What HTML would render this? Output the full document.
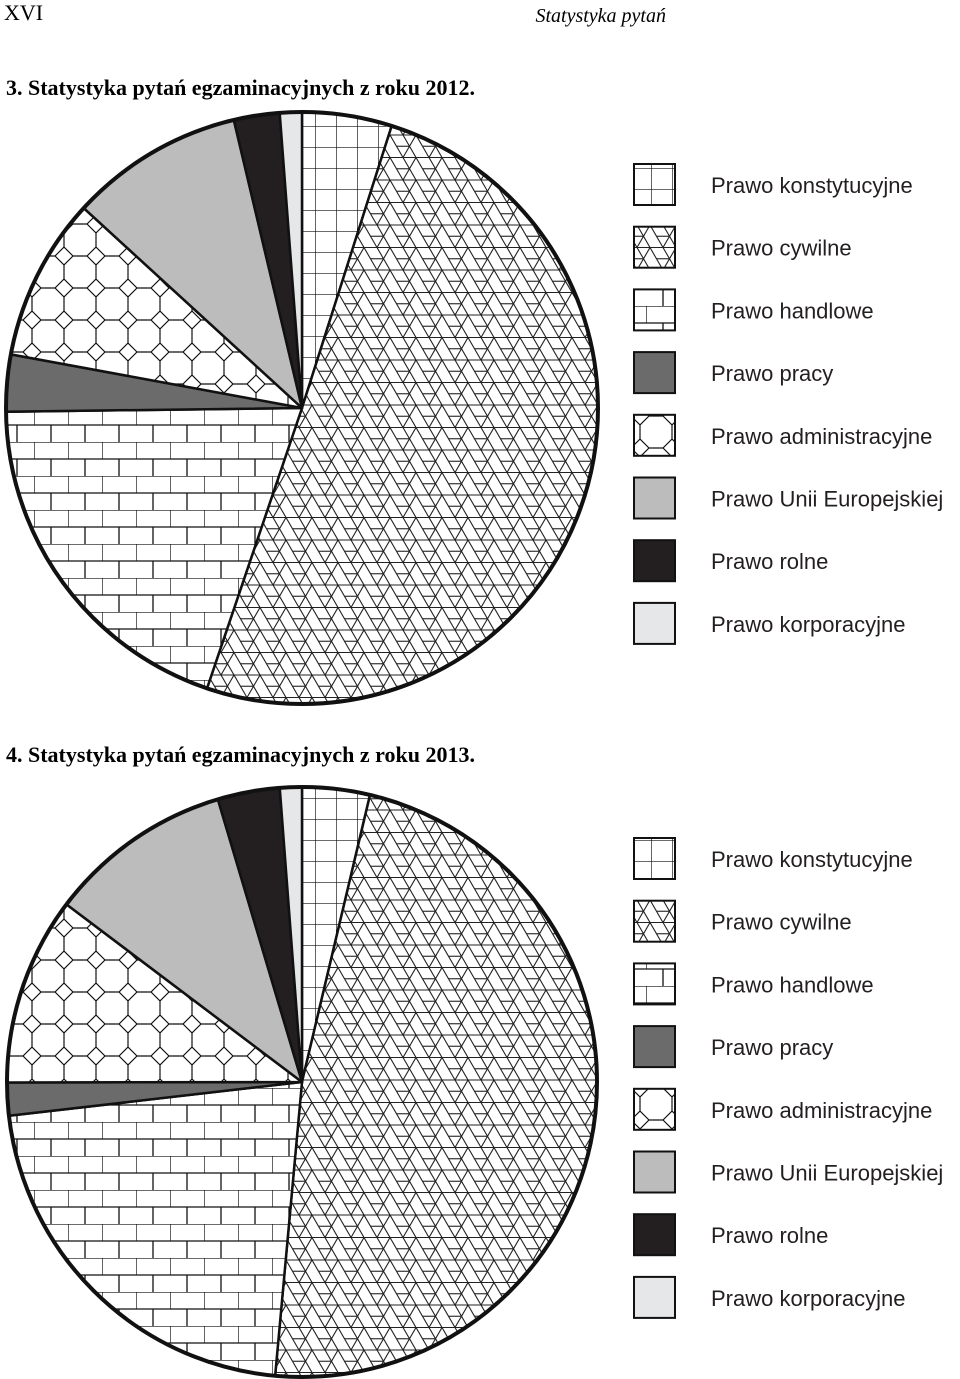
<!DOCTYPE html>
<html><head><meta charset="utf-8"><style>
body{margin:0;background:#fff;}
svg{display:block;}
</style></head><body>
<svg id="chart" width="960" height="1379" viewBox="0 0 960 1379" xmlns="http://www.w3.org/2000/svg">
<defs>
<pattern id="p-grid" patternUnits="userSpaceOnUse" width="21" height="21"><rect width="21" height="21" fill="#fff"/><path d="M0,0H21M0,0V21" stroke="#111" stroke-width="1.3" fill="none"/></pattern>
<pattern id="p-tri" patternUnits="userSpaceOnUse" width="26" height="22.5"><rect width="26" height="22.5" fill="#fff"/><path d="M0,0H26M0,22.5H26M0,0L13,22.5L26,0M-13,0L0,22.5M13,0L26,22.5" stroke="#222" stroke-width="1.1" fill="none"/><path d="M6.5,11.25H19.5" stroke="#222" stroke-width="1.1"/></pattern>
<pattern id="p-brick" patternUnits="userSpaceOnUse" width="34" height="34"><rect width="34" height="34" fill="#fff"/><path d="M0,0H34M0,17H34M0,0V17M17,17V34" stroke="#111" stroke-width="1.3" fill="none"/></pattern>
<pattern id="p-oct" patternUnits="userSpaceOnUse" width="32" height="32"><rect width="32" height="32" fill="#fff"/><path d="M9,0L23,0L32,9L32,23L23,32L9,32L0,23L0,9Z" stroke="#111" stroke-width="1.2" fill="none"/></pattern>
</defs>
<text x="4" y="20" font-family="Liberation Serif, serif" font-size="22">XVI</text>
<text x="666" y="22" text-anchor="end" font-family="Liberation Serif, serif" font-style="italic" font-size="20">Statystyka pytań</text>
<g id="root"></g>
</svg>
<script>
const categories=["Prawo konstytucyjne","Prawo cywilne","Prawo handlowe","Prawo pracy","Prawo administracyjne","Prawo Unii Europejskiej","Prawo rolne","Prawo korporacyjne"];
const values2012=[4.9,50.3,19.6,3.1,8.9,9.5,2.5,1.2];
const values2013=[3.7,47.7,21.7,1.8,10.3,10.1,3.4,1.2];
const titles=["3.  Statystyka pytań egzaminacyjnych z roku 2012.","4. Statystyka pytań egzaminacyjnych z roku 2013."];
const fills=["url(#p-grid)","url(#p-tri)","url(#p-brick)","#6b6b6b","url(#p-oct)","#bcbcbc","#231f20","#e6e7e8"];
const NS="http://www.w3.org/2000/svg";
const root=document.getElementById('root');
function mk(tag,attrs,parent){const e=document.createElementNS(NS,tag);for(const k in attrs)e.setAttribute(k,attrs[k]);parent.appendChild(e);return e;}
function drawPie(values,title,offY,cy,r,idx){
  const g=mk('g',{},root);
  
  
  const t=mk('text',{x:6,y:offY,'font-family':'Liberation Serif, serif','font-weight':'bold','font-size':'22'},g);
  t.textContent=title;
  
  
  const cx=302;const total=values.reduce((a,b)=>a+b,0);
  let a0=0;
  values.forEach((v,i)=>{
    const a1=a0+v/total*2*Math.PI;
    const x0=cx+r*Math.sin(a0),y0=cy-r*Math.cos(a0),x1=cx+r*Math.sin(a1),y1=cy-r*Math.cos(a1);
    const p=mk('path',{d:`M${cx},${cy}L${x0},${y0}A${r},${r} 0 ${a1-a0>Math.PI?1:0} 1 ${x1},${y1}Z`,fill:fills[i],stroke:'#111','stroke-width':'2.5','stroke-linejoin':'round'},g);
    
    
    a0=a1;
  });
  mk('circle',{cx:cx,cy:cy,r:r,fill:'none',stroke:'#111','stroke-width':'4'},g);
  const lg=mk('g',{},g);
  
  
  const ly=cy-244;
  categories.forEach((c,i)=>{
    const y=ly+i*62.7;
    const eg=mk('g',{},lg);
    
    
    mk('rect',{x:634,y:y,width:41,height:41,fill:fills[i],stroke:'#111','stroke-width':'2'},eg);
    const tx=mk('text',{x:711,y:y+29,'font-family':'Liberation Sans, sans-serif','font-size':'22',fill:'#231f20'},eg);
    tx.textContent=c;
  });
}
drawPie(values2012,titles[0],95,408,296,0);
drawPie(values2013,titles[1],762,1082,295,1);
</script>
</body></html>
